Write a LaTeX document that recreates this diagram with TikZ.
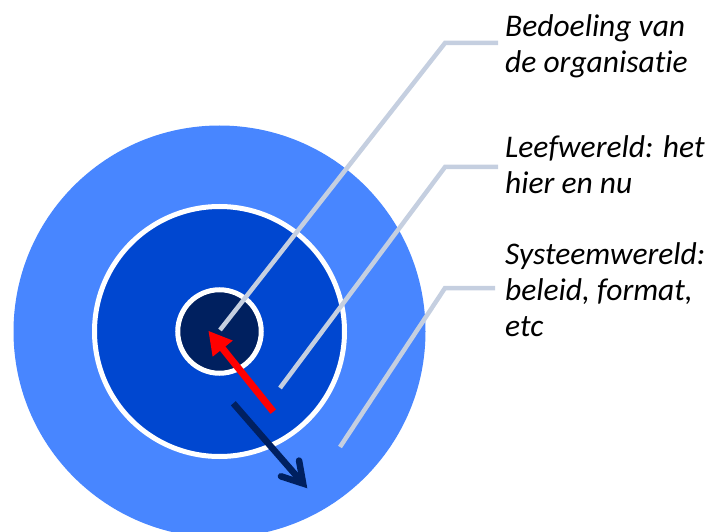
\documentclass[tikz,border=0pt]{standalone}
\usepackage{fontspec}
\setmainfont[Ligatures=NoCommon]{Carlito}
\usetikzlibrary{arrows.meta}
\definecolor{outerblue}{RGB}{72,134,255}
\definecolor{midblue}{RGB}{0,71,208}
\definecolor{innerblue}{RGB}{0,32,95}
\definecolor{leader}{RGB}{197,207,224}
\definecolor{navy}{RGB}{0,32,96}
\begin{document}
\begin{tikzpicture}[x=1pt,y=-1pt,
  leaderline/.style={draw=leader,line width=4.5pt,line join=miter},
  labeltext/.style={anchor=base west,inner sep=0pt,align=left,
    font=\fontsize{31.5}{36}\selectfont\itshape},
  ring/.style={circle,draw=white,line width=5pt,inner sep=0pt}]
\useasboundingbox (0,0) rectangle (713,532);
\clip (0,0) rectangle (713,532);
% circles
\node[circle,fill=outerblue,inner sep=0pt,minimum size=412pt] (outer) at (219.5,331.5) {};
\node[ring,fill=midblue,minimum size=250pt] (middle) at (219.5,331.5) {};
\node[ring,fill=innerblue,minimum size=83.5pt] (inner) at (219.5,331.5) {};
% labels (anchor = baseline of last line)
\node[labeltext] (l1) at (505,73) {Bedoeling van\\de organisatie};
\node[labeltext] (l2) at (505,194) {Leefwereld: het\\hier en nu};
\node[labeltext] (l3) at (505,336) {Systeemwereld:\\beleid, format,\\etc};
% leader coordinates
\coordinate (s1) at (220,330);
\coordinate (k1) at (445,43);
\coordinate (e1) at (498,43);
\coordinate (s2) at (280,388);
\coordinate (k2) at (445,167);
\coordinate (e2) at (498,167);
\coordinate (s3) at (340,447);
\coordinate (k3) at (445,288);
\coordinate (e3) at (495,288);
\draw[leaderline] (s1) -- (k1) -- (e1);
\draw[leaderline] (s2) -- (k2) -- (e2);
\draw[leaderline] (s3) -- (k3) -- (e3);
% arrows
\coordinate (rtail) at (273.3,411.7);
\coordinate (rtip) at (208.3,330.7);
\draw[red,line width=7pt,-{Triangle[length=23pt,width=24pt]}] (rtail) -- (rtip);
\coordinate (ntail) at (233.3,403.3);
\coordinate (ntip) at (307.3,488.3);
\draw[navy,line width=6.5pt,-{Straight Barb[length=20pt,width=24pt,line cap=round,line join=miter]}] (ntail) -- (ntip);
\end{tikzpicture}
\end{document}
